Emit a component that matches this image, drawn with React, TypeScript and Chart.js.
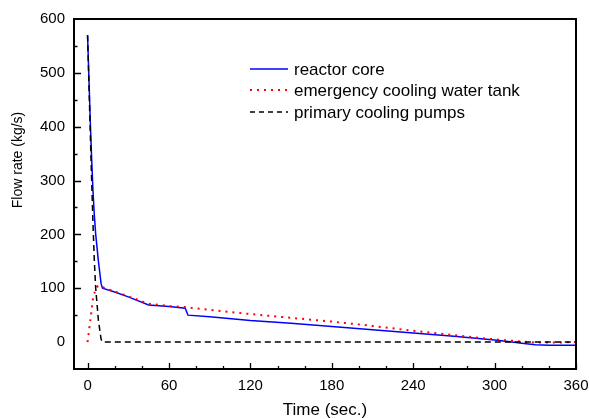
import { useEffect, useRef } from "react";
import { Chart, registerables } from "chart.js";

Chart.register(...registerables);

// ---- data ----
const coreTime = [0, 1, 2, 3, 4, 5, 6, 8, 10, 11, 20, 30, 45, 60, 72, 74, 90, 120, 150, 180, 210, 240, 270, 300, 310, 320, 330, 340, 360];
const coreFlow = [570, 490, 410, 340, 280, 235, 200, 150, 108, 100, 93, 84, 69, 66, 63, 50, 47, 40, 35, 29, 23, 17, 11, 4, 1, -2, -5, -6, -6];

const tankTime = [0, 2, 4, 6, 8, 11, 20, 30, 45, 60, 72, 74, 90, 120, 150, 180, 210, 240, 270, 300, 315, 330, 345, 360];
const tankFlow = [0, 40, 80, 100, 105, 102, 94, 85, 71, 67, 65, 64, 60, 52, 45, 38, 30, 21, 13, 5, 2, -1, -1, 0];

const pumpTime = [0, 1, 2, 3, 4, 5, 6, 8, 10, 11, 360];
const pumpFlow = [570, 480, 390, 300, 220, 150, 100, 40, 5, 0, 0];

const xTickValues = [0, 60, 120, 180, 240, 300, 360];
const yTickValues = [0, 100, 200, 300, 400, 500, 600];

const seriesNames = ["reactor core", "emergency cooling water tank", "primary cooling pumps"];
const xTitle = "Time (sec.)";
const yTitle = "Flow rate (kg/s)";

const FONT = "'Liberation Sans', Arial, Helvetica, sans-serif";

const toPoints = (t: number[], v: number[]) => t.map((x, i) => ({ x, y: v[i] }));

const decorPlugin = {
  id: "decor",
  afterDraw(chart: any) {
    const { ctx, chartArea: a, scales } = chart;
    const x = scales.x;
    const y = scales.y;
    ctx.save();
    ctx.strokeStyle = "#000";
    ctx.lineWidth = 2;
    ctx.setLineDash([]);
    ctx.strokeRect(a.left, a.top, a.right - a.left, a.bottom - a.top);
    ctx.lineWidth = 1.3;
    ctx.beginPath();
    for (let v = 0; v <= 360; v += 20) {
      const px = Math.round(x.getPixelForValue(v)) + 0.5;
      const len = v % 60 === 0 ? 6 : 3;
      ctx.moveTo(px, a.bottom);
      ctx.lineTo(px, a.bottom - len);
    }
    for (let v = 50; v < 600; v += 50) {
      const py = Math.round(y.getPixelForValue(v)) + 0.5;
      const len = v % 100 === 0 ? 7 : 3.5;
      ctx.moveTo(a.left, py);
      ctx.lineTo(a.left + len, py);
    }
    ctx.stroke();

    // legend
    const lx0 = 250, lx1 = 288, tx = 294;
    const rows = [69, 90, 112];
    const styles = [
      { color: "#0000ff", dash: [] as number[], w: 1.5 },
      { color: "#ff0000", dash: [2, 5], w: 2 },
      { color: "#000000", dash: [5, 4], w: 1.5 },
    ];
    ctx.font = `17px ${FONT}`;
    ctx.textBaseline = "middle";
    ctx.textAlign = "left";
    rows.forEach((ry, i) => {
      ctx.strokeStyle = styles[i].color;
      ctx.lineWidth = styles[i].w;
      ctx.setLineDash(styles[i].dash);
      ctx.beginPath();
      ctx.moveTo(lx0, ry);
      ctx.lineTo(lx1, ry);
      ctx.stroke();
      ctx.setLineDash([]);
      ctx.fillStyle = "#000";
      ctx.fillText(seriesNames[i], tx, ry + 1);
    });

    // axis titles
    ctx.fillStyle = "#000";
    ctx.font = `17px ${FONT}`;
    ctx.textAlign = "center";
    ctx.textBaseline = "middle";
    ctx.fillText(xTitle, (a.left + a.right) / 2, 410);
    ctx.save();
    ctx.translate(18, 160);
    ctx.rotate(-Math.PI / 2);
    ctx.font = `14px ${FONT}`;
    ctx.fillText(yTitle, 0, 0);
    ctx.restore();
    ctx.restore();
  },
};

export default function App() {
  const ref = useRef<HTMLCanvasElement | null>(null);
  useEffect(() => {
    if (!ref.current) return;
    const chart = new Chart(ref.current, {
      type: "line",
      data: {
        datasets: [
          {
            label: seriesNames[0],
            data: toPoints(coreTime, coreFlow),
            borderColor: "#0000ff",
            borderWidth: 1.5,
            pointRadius: 0,
            tension: 0,
            order: 3,
          },
          {
            label: seriesNames[1],
            data: toPoints(tankTime, tankFlow),
            borderColor: "#ff0000",
            borderWidth: 2,
            borderDash: [2, 5],
            pointRadius: 0,
            tension: 0,
            order: 2,
          },
          {
            label: seriesNames[2],
            data: toPoints(pumpTime, pumpFlow),
            borderColor: "#000000",
            borderWidth: 1.5,
            borderDash: [6, 4],
            pointRadius: 0,
            tension: 0,
            order: 1,
          },
        ],
      },
      options: {
        responsive: false,
        animation: false,
        layout: { padding: { top: 19, right: 13, left: 0, bottom: 0 } },
        plugins: { legend: { display: false }, tooltip: { enabled: false } },
        scales: {
          x: {
            type: "linear",
            min: -10,
            max: 360,
            grid: { display: false, drawTicks: false },
            border: { display: false },
            ticks: {
              padding: 8,
              color: "#000",
              font: { family: FONT, size: 15 },
              maxRotation: 0,
            },
            afterBuildTicks: (s: any) => {
              s.ticks = xTickValues.map((v) => ({ value: v }));
            },
            afterFit: (s: any) => {
              s.height = 50;
              s.paddingLeft = 0;
              s.paddingRight = 0;
            },
          },
          y: {
            type: "linear",
            min: -50,
            max: 600,
            grid: { display: false, drawTicks: false },
            border: { display: false },
            ticks: {
              padding: 9,
              color: "#000",
              font: { family: FONT, size: 15 },
            },
            afterBuildTicks: (s: any) => {
              s.ticks = yTickValues.map((v) => ({ value: v }));
            },
            afterFit: (s: any) => {
              s.width = 74;
              s.paddingTop = 0;
              s.paddingBottom = 0;
            },
          },
        },
      },
      plugins: [decorPlugin],
    });
    return () => chart.destroy();
  }, []);
  return (
    <div style={{ position: "absolute", left: 0, top: 0, width: 589, height: 419, background: "#fff" }}>
      <canvas ref={ref} width={589} height={419} style={{ display: "block" }} />
    </div>
  );
}
